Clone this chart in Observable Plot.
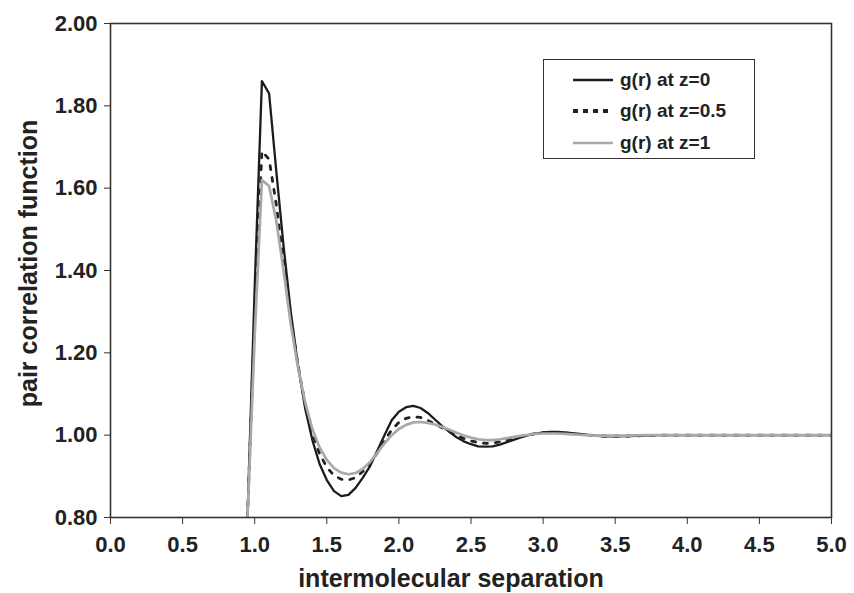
<!DOCTYPE html>
<html>
<head>
<meta charset="utf-8">
<script src="https://cdn.jsdelivr.net/npm/d3@7"></script>
<script src="https://cdn.jsdelivr.net/npm/@observablehq/plot@0.6"></script>
<style>
  body { margin: 0; background: #fff; }
  #wrap { position: relative; width: 854px; height: 593px; font-family: "Liberation Sans", Arial, sans-serif; }
  #wrap svg text { font-weight: bold; fill: #222; }
  #legend { position: absolute; left: 543px; top: 59px; width: 210px; height: 98px; border: 1.6px solid #333; background: #fff; }
  .row { position: absolute; left: 0; height: 24px; display: flex; align-items: center; }
  .row svg { margin-left: 29px; }
  .row span { margin-left: 7px; font-weight: bold; font-size: 19px; color: #222; }
</style>
</head>
<body>
<div id="wrap"></div>
<script>
// intermolecular separation r
const rValues = [
  0.95,1.00,1.05,1.10,1.15,1.20,1.25,1.30,1.35,1.40,1.45,1.50,1.55,1.60,1.65,1.70,1.75,1.80,1.85,1.90,
  1.95,2.00,2.05,2.10,2.15,2.20,2.25,2.30,2.35,2.40,2.45,2.50,2.55,2.60,2.65,2.70,2.75,2.80,2.85,2.90,
  2.95,3.00,3.05,3.10,3.15,3.20,3.25,3.30,3.35,3.40,3.45,3.50,
  3.60,3.70,3.80,3.90,4.00,4.10,4.20,4.30,4.40,4.50,4.60,4.70,4.80,4.90,5.00
];
// g(r) at z=0
const gZ0 = [
  0.80,1.36,1.86,1.83,1.64,1.46,1.30,1.17,1.065,0.988,0.930,0.891,0.864,0.852,0.855,0.872,0.897,0.925,0.962,1.000,
  1.036,1.057,1.068,1.071,1.066,1.054,1.038,1.022,1.008,0.995,0.985,0.978,0.973,0.972,0.973,0.977,0.983,0.989,0.995,1.000,
  1.004,1.007,1.008,1.008,1.007,1.005,1.003,1.001,0.999,0.998,0.997,0.997,
  0.998,0.999,1.000,1.000,1.000,1.000,1.000,1.000,1.000,1.000,1.000,1.000,1.000,1.000,1.000
];
// g(r) at z=0.5
const gZ05 = [
  0.80,1.29,1.69,1.67,1.56,1.42,1.285,1.17,1.075,1.005,0.955,0.922,0.902,0.893,0.891,0.897,0.912,0.932,0.957,0.986,
  1.013,1.031,1.041,1.045,1.043,1.036,1.027,1.018,1.009,1.000,0.992,0.986,0.982,0.980,0.981,0.984,0.988,0.993,0.997,1.001,
  1.004,1.006,1.006,1.006,1.005,1.004,1.002,1.001,0.999,0.998,0.998,0.998,
  0.998,0.999,1.000,1.000,1.000,1.000,1.000,1.000,1.000,1.000,1.000,1.000,1.000,1.000,1.000
];
// g(r) at z=1
const gZ1 = [
  0.80,1.24,1.62,1.605,1.52,1.40,1.27,1.165,1.08,1.015,0.970,0.940,0.920,0.909,0.905,0.908,0.918,0.935,0.957,0.980,
  1.000,1.015,1.025,1.031,1.032,1.030,1.026,1.020,1.013,1.006,0.999,0.994,0.990,0.988,0.988,0.990,0.993,0.996,0.999,1.001,
  1.003,1.004,1.004,1.004,1.003,1.002,1.001,1.000,0.999,0.999,0.999,0.999,
  0.999,1.000,1.000,1.000,1.000,1.000,1.000,1.000,1.000,1.000,1.000,1.000,1.000,1.000,1.000
];
const xTicks = [0,0.5,1.0,1.5,2.0,2.5,3.0,3.5,4.0,4.5,5.0];
const yTicks = [0.8,1.0,1.2,1.4,1.6,1.8,2.0];
const seriesNames = ["g(r) at z=0","g(r) at z=0.5","g(r) at z=1"];
const xTitle = "intermolecular separation";
const yTitle = "pair correlation function";

const toRows = (ys) => rValues.map((r, i) => ({r, g: ys[i]}));

const chart = Plot.plot({
  width: 854,
  height: 593,
  marginLeft: 110,
  marginRight: 23,
  marginTop: 23,
  marginBottom: 76,
  style: {fontFamily: '"Liberation Sans", Arial, sans-serif', background: "#fff"},
  x: {domain: [0, 5]},
  y: {domain: [0.8, 2.0]},
  marks: [
    Plot.axisX({ticks: xTicks, tickFormat: d => d.toFixed(1), tickSize: 7, tickPadding: 12, fontSize: 22, label: null, stroke: "#333"}),
    Plot.axisY({ticks: yTicks, tickFormat: d => d.toFixed(2), tickSize: 6, tickPadding: 7, fontSize: 22, label: null, stroke: "#333"}),
    Plot.line(toRows(gZ0), {x: "r", y: "g", stroke: "#1c1c1c", strokeWidth: 2.3, clip: true}),
    Plot.line(toRows(gZ05), {x: "r", y: "g", stroke: "#222", strokeWidth: 2.8, strokeDasharray: "4,8", clip: true}),
    Plot.line(toRows(gZ1), {x: "r", y: "g", stroke: "#a9a9a9", strokeWidth: 2.7, clip: true}),
    Plot.frame({stroke: "#333", strokeWidth: 1.6}),
    Plot.text([xTitle], {frameAnchor: "bottom", textAnchor: "middle", lineAnchor: "middle", dx: -20, dy: 61, fontSize: 25, fontWeight: "bold", fill: "#222"}),
    Plot.text([yTitle], {frameAnchor: "left", textAnchor: "middle", lineAnchor: "middle", dx: -82, dy: -7, rotate: -90, fontSize: 25, fontWeight: "bold", fill: "#222"})
  ]
});

const wrap = document.getElementById("wrap");
wrap.appendChild(chart);

// legend
const legend = document.createElement("div");
legend.id = "legend";
const styles = [
  {stroke: "#1c1c1c", width: 2.4, dash: null},
  {stroke: "#222", width: 4, dash: "5,5"},
  {stroke: "#a9a9a9", width: 2.6, dash: null}
];
const rowTops = [8, 39, 71];
seriesNames.forEach((name, i) => {
  const row = document.createElement("div");
  row.className = "row";
  row.style.top = rowTops[i] + "px";
  const s = styles[i];
  row.innerHTML = `<svg width="40" height="10"><line x1="0" x2="40" y1="5" y2="5" stroke="${s.stroke}" stroke-width="${s.width}" ${s.dash ? `stroke-dasharray="${s.dash}"` : ""}/></svg><span>${name}</span>`;
  legend.appendChild(row);
});
wrap.appendChild(legend);
</script>
</body>
</html>
